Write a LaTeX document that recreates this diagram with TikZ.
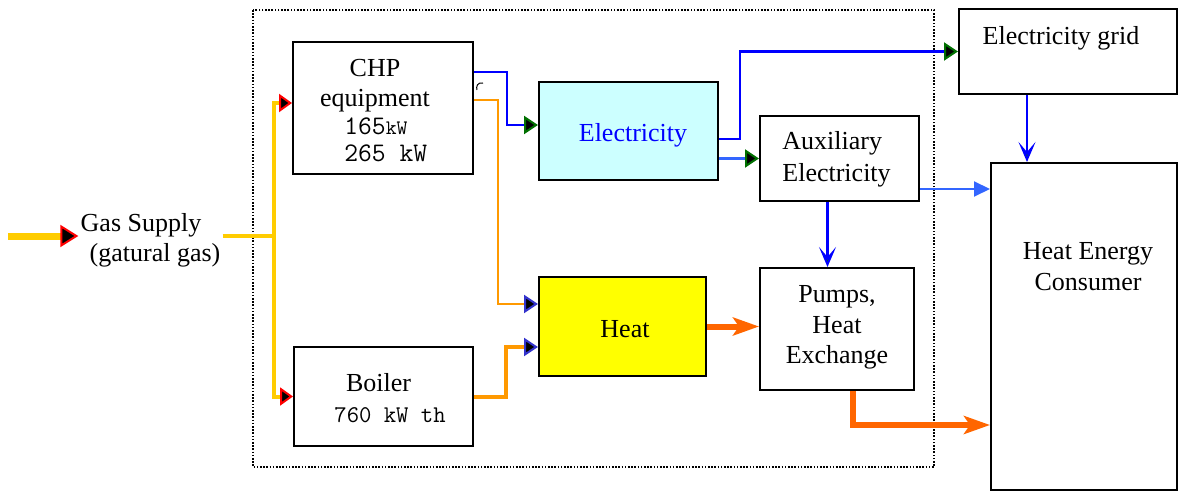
\documentclass[tikz,border=0pt]{standalone}
\usepackage{fontspec}
\setmainfont{Liberation Serif}
\usetikzlibrary{arrows.meta}

\definecolor{gasyellow}{HTML}{FFCC00}
\definecolor{elecblue}{HTML}{0000FF}
\definecolor{auxblue}{HTML}{3366FF}
\definecolor{darkgreen}{HTML}{007000}
\definecolor{tipblue}{HTML}{3333CC}
\definecolor{hotorange}{HTML}{FF9900}
\definecolor{heatred}{HTML}{FF6600}
\definecolor{elecfill}{HTML}{CCFFFF}
\definecolor{heatfill}{HTML}{FFFF00}

\begin{document}
\begin{tikzpicture}[x=0.5pt, y=-0.5pt]
    \tikzset{
        box/.style={draw, line width=1pt, inner sep=0pt},
        txt/.style={font=\fontsize{13}{15}\selectfont, inner sep=1pt, anchor=base},
        val/.style={font=\ttfamily\fontsize{13.4}{13.5}\selectfont, inner sep=1pt, anchor=base},
        gasline/.style={draw=gasyellow, line width=2pt},
        elecline/.style={draw=elecblue, line width=1.2pt},
        auxline/.style={draw=auxblue, line width=1.2pt},
        hotline/.style={draw=hotorange, line width=1pt},
        heatline/.style={draw=heatred, line width=3pt},
        redhead/.tip={Triangle[color=red, fill=black, length=6.5pt, width=9pt, line width=1pt]},
        greenhead/.tip={Triangle[color=darkgreen, fill=black, length=7pt, width=9pt, line width=1pt]},
        bluehead/.tip={Triangle[color=tipblue, fill=black, length=7pt, width=9pt, line width=1pt]},
        vhead/.tip={Stealth[color=elecblue, fill=darkgreen, length=10pt, width=8.5pt, inset=5pt, line width=1pt]},
        heathead/.tip={Stealth[color=heatred, fill=heatred, length=13pt, width=9pt, inset=3pt]},
    }
    \useasboundingbox (0,0) rectangle (1179,492);

    % Plant border
    \draw[line width=0.8pt, dash pattern=on 0.8pt off 0.8pt] (253,10) rectangle (934,467);

    % Boxes
    \node[box, minimum width=90pt, minimum height=66pt] (chp) at (383,108) {};
    \node[box, fill=elecfill, minimum width=89.5pt, minimum height=49pt] (elec) at (628.5,131) {};
    \node[box, minimum width=109pt, minimum height=42.5pt] (grid) at (1068,51.5) {};
    \node[box, minimum width=79.5pt, minimum height=42.5pt] (aux) at (839.5,158.5) {};
    \node[box, minimum width=93pt, minimum height=163.5pt] (cons) at (1084,326.5) {};
    \node[box, minimum width=77pt, minimum height=61pt] (pumps) at (837,329) {};
    \node[box, fill=heatfill, minimum width=83.5pt, minimum height=49.5pt] (heat) at (622.5,326.5) {};
    \node[box, minimum width=89.5pt, minimum height=49.5pt] (boiler) at (383.5,396.5) {};

    % Texts
    \node[txt] (gastxt1) at (141,232) {Gas Supply};
    \node[txt] (gastxt2) at (155,262) {(gatural gas)};
    \node[txt] (chptitle) at (375,77) {CHP};
    \node[txt] (chptype) at (375,107) {equipment};
    \node[val, align=left, anchor=west] (chpval) at (342,140) {165{\fontsize{10.3}{10}\selectfont kW}\\265 kW};
    \node[txt, text=elecblue] (electxt) at (633,142) {Electricity};
    \node[txt] (gridtxt) at (1061,45) {Electricity grid};
    \node[txt, anchor=base west] (auxtxt1) at (780,150) {Auxiliary};
    \node[txt, anchor=base west] (auxtxt2) at (780,182) {Electricity};
    \node[txt] (heattxt) at (625,337) {Heat};
    \node[txt] (pumpstxt1) at (837,302) {Pumps,};
    \node[txt] (pumpstxt2) at (837,333) {Heat};
    \node[txt] (pumpstxt3) at (837,363) {Exchange};
    \node[txt] (boilertxt) at (378.5,391) {Boiler};
    \node[val, font=\ttfamily\fontsize{12}{13}\selectfont] (boilerval) at (390,422) {760 kW th};
    \node[txt] (constxt1) at (1088,259) {Heat Energy};
    \node[txt] (constxt2) at (1088,290) {Consumer};

    % Gas
    \coordinate (gasstart) at (8,236);
    \coordinate (split) at (274,236);
    \draw[gasline, line width=3.5pt, -{Triangle[color=red, fill=black, length=9pt, width=11pt, line width=1pt]}] (gasstart) -- (gasstart -| gastxt1.west);
    \draw[gasline] (split -| gastxt2.east) -- (split);
    \draw[gasline, -redhead] (split) |- ([yshift=2.5pt]chp.west);
    \draw[gasline, -redhead] (split) |- (boiler.west);

    % Electricity
    \draw[elecline, -greenhead] ([yshift=-15.5pt]chp.north east) -- ++(33,0) |- ([yshift=3pt]elec.west);
    \draw[line width=0.5pt] (483,83) .. controls (477,82) and (476,87) .. (477,90);
    \draw[elecline, -greenhead] ([yshift=-4pt]elec.east) -- ++(21,0) |- (grid.west);
    \draw[auxline, -greenhead] (elec.east |- aux.west) -- (aux.west);
    \draw[elecline, -vhead] ([xshift=-6pt]aux.south) -- ([xshift=-6pt]aux.south |- pumps.north);
    \draw[elecline, -vhead] ([xshift=-20.5pt]grid.south) -- ([xshift=-20.5pt]grid.south |- cons.north);
    \draw[auxline, line width=1pt, -{Triangle[length=8pt, width=7.5pt]}] ([yshift=-15.25pt]aux.east) -- ([yshift=-15.25pt]aux.east -| cons.west);

    % Heat
    \draw[hotline, -bluehead] ([yshift=-29.5pt]chp.north east) -- ++(24,0) |- ([yshift=11.25pt]heat.west);
    \draw[hotline, line width=2pt, -bluehead] (boiler.east) -- ++(32,0) |- ([yshift=-10.25pt]heat.west);
    \draw[heatline, -heathead] (heat.east) -- (heat.east -| pumps.west);
    \draw[heatline, -heathead] ([xshift=8pt]pumps.south) |- ([yshift=-49.25pt]cons.west);
\end{tikzpicture}
\end{document}
